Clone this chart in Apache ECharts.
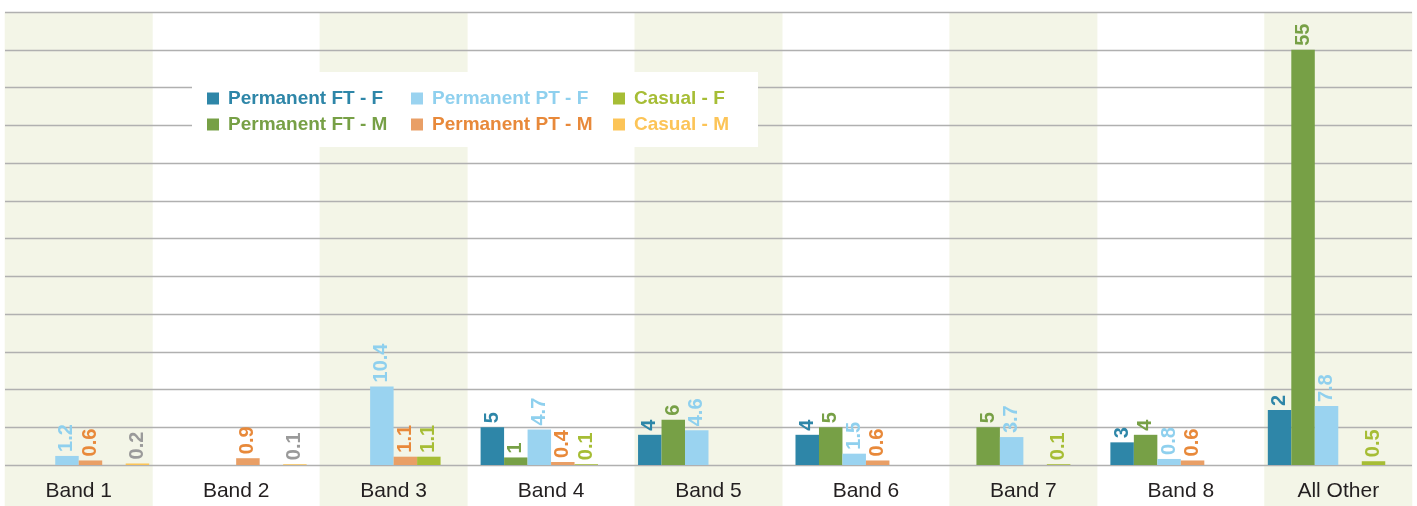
<!DOCTYPE html>
<html>
<head>
<meta charset="utf-8">
<script src="https://cdn.jsdelivr.net/npm/echarts@6/dist/echarts.min.js"></script>
<style>
  html, body { margin: 0; padding: 0; background: #fff; }
  #chart { width: 1417px; height: 506px; }
</style>
</head>
<body>
<div id="chart"></div>
<script>
// chart values
var categories = ['Band 1', 'Band 2', 'Band 3', 'Band 4', 'Band 5', 'Band 6', 'Band 7', 'Band 8', 'All Other'];
var permFtF = [null, null, null, 5, 4, 4, null, 3, 7.3];
var permFtFLabels = ['', '', '', '5', '4', '4', '', '3', '2'];
var permFtM = [null, null, null, 1, 6, 5, 5, 4, 55];
var permPtF = [1.2, null, 10.4, 4.7, 4.6, 1.5, 3.7, 0.8, 7.8];
var permPtM = [0.6, 0.9, 1.1, 0.4, null, 0.6, null, 0.6, null];
var casualF = [null, null, 1.1, 0.1, null, null, 0.1, null, 0.5];
var casualM = [0.2, 0.1, null, null, null, null, null, null, null];
var shaded = [1, null, 1, null, 1, null, 1, null, 1];

var FONT = "'Liberation Sans', Arial, sans-serif";

var chart = echarts.init(document.getElementById('chart'));

function barSeries(name, data, color, labelColor, fmt) {
  return {
    name: name,
    type: 'bar',
    xAxisIndex: 0,
    yAxisIndex: 0,
    data: data,
    barGap: 0,
    barCategoryGap: '10.5%',
    itemStyle: { color: color },
    z: 3,
    label: {
      show: true,
      position: 'top',
      rotate: 90,
      align: 'left',
      verticalAlign: 'middle',
      distance: 4,
      fontFamily: FONT,
      fontWeight: 'bold',
      fontSize: 20,
      color: labelColor,
      formatter: fmt || '{c}'
    }
  };
}

function legendItem(name, color) {
  return { name: name, textStyle: { color: color } };
}

var legendBase = {
  orient: 'vertical',
  top: 89,
  padding: 0,
  itemGap: 7,
  itemWidth: 12,
  itemHeight: 12,
  icon: 'rect',
  z: 10,
  selectedMode: false,
  textStyle: { fontFamily: FONT, fontWeight: 'bold', fontSize: 19, padding: [0, 0, 0, 4] }
};

var option = {
  animation: false,
  backgroundColor: '#fff',
  graphic: [{
    type: 'rect',
    z: 8,
    shape: { x: 192, y: 72, width: 566, height: 75 },
    style: { fill: '#ffffff' }
  }],
  legend: [
    Object.assign({}, legendBase, { left: 207, data: [legendItem('Permanent FT - F', '#2e86a8'), legendItem('Permanent FT - M', '#77a046')] }),
    Object.assign({}, legendBase, { left: 411, data: [legendItem('Permanent PT - F', '#8fd0ee'), legendItem('Permanent PT - M', '#e8893a')] }),
    Object.assign({}, legendBase, { left: 613, data: [legendItem('Casual - F', '#a6bd35'), legendItem('Casual - M', '#fcc457')] })
  ],
  grid: [
    { left: 0, right: 0, top: 12, bottom: 41 },
    { left: 5, right: 5, top: 12, bottom: 41 },
    { left: 0, right: 0, top: 12, bottom: 0 }
  ],
  xAxis: [
    {
      type: 'category', gridIndex: 0, data: categories,
      axisLine: { show: false }, axisTick: { show: false },
      axisLabel: { fontFamily: FONT, fontSize: 21, color: '#231f20', margin: 16 }
    },
    { type: 'value', gridIndex: 1, show: false },
    { type: 'category', gridIndex: 2, data: categories, show: false }
  ],
  yAxis: [
    { type: 'value', gridIndex: 0, min: 0, max: 60, interval: 5, show: false, splitLine: { show: false } },
    {
      type: 'value', gridIndex: 1, min: 0, max: 60, interval: 5, z: 1,
      axisLabel: { show: false }, axisLine: { show: false }, axisTick: { show: false },
      splitLine: { show: true, lineStyle: { color: '#b0b0b0', width: 1.3 } }
    },
    { type: 'value', gridIndex: 2, min: 0, max: 1, show: false, splitLine: { show: false } }
  ],
  series: [
    {
      type: 'bar', xAxisIndex: 2, yAxisIndex: 2, data: shaded,
      barWidth: '94%', silent: true, z: 0,
      itemStyle: { color: '#f3f5e7' }
    },
    barSeries('Permanent FT - F', permFtF, '#2e86a8', '#2e86a8', function (p) { return permFtFLabels[p.dataIndex]; }),
    barSeries('Permanent FT - M', permFtM, '#77a046', '#77a046'),
    barSeries('Permanent PT - F', permPtF, '#9ad3f0', '#8fd0ee'),
    barSeries('Permanent PT - M', permPtM, '#e99f66', '#e8893a'),
    barSeries('Casual - F', casualF, '#a6bd35', '#a6bd35'),
    barSeries('Casual - M', casualM, '#fcc457', '#9a9a9a')
  ]
};

chart.setOption(option);
</script>
</body>
</html>
